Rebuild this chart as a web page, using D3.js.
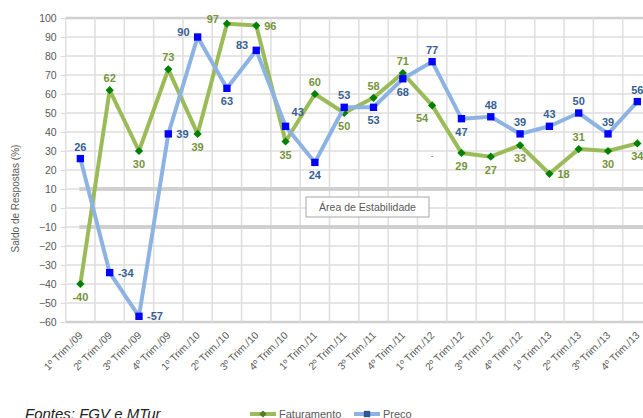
<!DOCTYPE html>
<html>
<head>
<meta charset="utf-8">
<script src="https://cdn.jsdelivr.net/npm/d3@7"></script>
<style>
  body { margin: 0; background: #fff; }
  svg { display: block; font-family: "Liberation Sans", Arial, sans-serif; }
</style>
</head>
<body>
<div id="chart"></div>
<script>
// quarters shown on the x axis
let categories = [
    "1º Trim./09", "2º Trim./09", "3º Trim./09", "4º Trim./09",
    "1º Trim./10", "2º Trim./10", "3º Trim./10", "4º Trim./10",
    "1º Trim./11", "2º Trim./11", "3º Trim./11", "4º Trim./11",
    "1º Trim./12", "2º Trim./12", "3º Trim./12", "4º Trim./12",
    "1º Trim./13", "2º Trim./13", "3º Trim./13", "4º Trim./13"
];
let faturamento = [-40, 62, 30, 73, 39, 97, 96, 35, 60, 50, 58, 71, 54, 29, 27, 33, 18, 31, 30, 34];
let preco = [26, -34, -57, 39, 90, 63, 83, 43, 24, 53, 53, 68, 77, 47, 48, 39, 43, 50, 39, 56];
let yTicks = d3.range(-60, 101, 10);
let stabilityBand = [-10, 10];

// where each data label sits relative to its point
let fatLabelPos = ["below", "above", "below", "above", "below", "left", "right", "below", "above", "below",
    "above", "above", "belowleft", "below", "below", "below", "right", "above", "below", "below"];
let precoLabelPos = ["above", "right", "right", "right", "left", "below", "left", "aboveright", "below", "above",
    "below", "below", "above", "below", "above", "above", "above", "above", "above", "above"];

let width = 643, height = 418;
let margin = {top: 18, left: 65.7, bottom: 96};
let plotRight = 652;

let svg = d3.select("#chart").append("svg")
    .attr("width", width)
    .attr("height", height);

let x = d3.scaleBand()
    .domain(categories)
    .range([margin.left, plotRight])
    .padding(0);
let y = d3.scaleLinear()
    .domain([-60, 100])
    .range([height - margin.bottom, margin.top]);

let cx = function(i){ return x(categories[i]) + x.bandwidth() / 2; };

// gridlines
let grid = svg.append("g");
grid.selectAll("line.h").data(yTicks).enter().append("line")
    .attr("x1", margin.left).attr("x2", plotRight)
    .attr("y1", d => y(d)).attr("y2", d => y(d))
    .attr("stroke", d => (d === 100 || d === -60) ? "#d0d0d0" : "#dedede")
    .attr("stroke-width", d => (d === 100 || d === -60) ? 2.5 : 1.5);
let vlines = categories.map(c => x(c)).concat([plotRight]);
grid.selectAll("line.v").data(vlines).enter().append("line")
    .attr("x1", d => d).attr("x2", d => d)
    .attr("y1", y(100)).attr("y2", y(-60))
    .attr("stroke", "#dedede")
    .attr("stroke-width", 1.5);

// stability band lines
svg.selectAll("line.stab").data(stabilityBand).enter().append("line")
    .attr("x1", cx(0) - 1).attr("x2", plotRight)
    .attr("y1", d => y(d)).attr("y2", d => y(d))
    .attr("stroke", "#d0d0d0")
    .attr("stroke-width", 4);

// y axis
let yAxis = svg.append("g")
    .attr("transform", "translate(" + margin.left + ",0)")
    .call(d3.axisLeft(y).tickValues(yTicks).tickSize(5).tickPadding(4));
yAxis.select(".domain").remove();
yAxis.selectAll("line").attr("stroke", "#d9d9d9");
yAxis.selectAll("text")
    .attr("fill", "#595959")
    .style("font-size", "10.5px");

svg.append("text")
    .attr("transform", "translate(19," + y(5) + ") rotate(-90)")
    .attr("text-anchor", "middle")
    .attr("fill", "#595959")
    .style("font-size", "10px")
    .text("Saldo de Respostas (%)");

// x axis labels
svg.selectAll("text.xl").data(categories).enter().append("text")
    .attr("transform", (d, i) => "translate(" + (cx(i) + 3) + "," + (y(-60) + 14) + ") rotate(-45)")
    .attr("text-anchor", "end")
    .attr("fill", "#595959")
    .style("font-size", "10.3px")
    .text(d => d);

// stability box
let box = svg.append("g");
box.append("rect")
    .attr("x", 306).attr("y", 197)
    .attr("width", 123).attr("height", 20)
    .attr("fill", "#fff")
    .attr("stroke", "#a6a6a6");
box.append("text")
    .attr("x", 367.5).attr("y", 211)
    .attr("text-anchor", "middle")
    .attr("fill", "#595959")
    .style("font-size", "10.5px")
    .text("Área de Estabilidade");

let line = d3.line()
    .x((d, i) => cx(i))
    .y(d => y(d));

function drawSeries(values, lineColor, markerColor, diamond, labelColor, positions){
    svg.append("path")
        .datum(values)
        .attr("d", line)
        .attr("fill", "none")
        .attr("stroke", lineColor)
        .attr("stroke-width", 4)
        .attr("stroke-linejoin", "round");

    // diamonds are squares turned 45 degrees
    let sym = d3.symbol().type(d3.symbolSquare).size(diamond ? 34 : 54);
    svg.selectAll(null).data(values).enter().append("path")
        .attr("d", sym)
        .attr("transform", (d, i) => "translate(" + cx(i) + "," + y(d) + ")" + (diamond ? " rotate(45)" : ""))
        .attr("fill", markerColor);

    svg.selectAll(null).data(values).enter().append("text")
        .attr("x", (d, i) => {
            let p = positions[i];
            if(p === "left") return cx(i) - 8;
            if(p === "right") return cx(i) + 8;
            if(p === "belowleft") return cx(i) - 10;
            if(p === "aboveright") return cx(i) + 6;
            return cx(i);
        })
        .attr("y", (d, i) => {
            let p = positions[i];
            if(p === "above") return y(d) - 8;
            if(p === "below" || p === "belowleft") return y(d) + 17;
            if(p === "aboveright") return y(d) - 10;
            if(p === "left") return y(d) - 1;
            return y(d) + 4;
        })
        .attr("text-anchor", (d, i) => {
            let p = positions[i];
            if(p === "left") return "end";
            if(p === "right" || p === "aboveright") return "start";
            return "middle";
        })
        .attr("fill", labelColor)
        .style("font-size", "11px")
        .style("font-weight", "bold")
        .text(d => d);
}

drawSeries(faturamento, "#9bbb59", "#008000", true, "#77933c", fatLabelPos);
drawSeries(preco, "#8db3e2", "#0000ff", false, "#376092", precoLabelPos);

// stray label mark near 1º Trim./12
svg.append("text")
    .attr("x", cx(12)).attr("y", y(28) + 3)
    .attr("text-anchor", "middle")
    .attr("fill", "#008000")
    .style("font-size", "8px")
    .text("-");

// source note
svg.append("text")
    .attr("x", 25).attr("y", 419)
    .attr("fill", "#222")
    .style("font-size", "15px")
    .style("font-style", "italic")
    .text("Fontes: FGV e MTur");

// legend
let legend = svg.append("g").attr("transform", "translate(0,414)");
let legendItems = [
    {name: "Faturamento", color: "#9bbb59", marker: "#4f7a28", diamond: true, x: 250},
    {name: "Preco", color: "#8db3e2", marker: "#2f5597", diamond: false, x: 354}
];
legendItems.forEach(it => {
    legend.append("line")
        .attr("x1", it.x).attr("x2", it.x + 26)
        .attr("y1", 0).attr("y2", 0)
        .attr("stroke", it.color)
        .attr("stroke-width", 4);
    legend.append("path")
        .attr("d", d3.symbol().type(d3.symbolSquare).size(it.diamond ? 26 : 40))
        .attr("transform", "translate(" + (it.x + 13) + ",0)" + (it.diamond ? " rotate(45)" : ""))
        .attr("fill", it.marker);
    legend.append("text")
        .attr("x", it.x + 29).attr("y", 4)
        .attr("fill", "#595959")
        .style("font-size", "11px")
        .text(it.name);
});
</script>
</body>
</html>
